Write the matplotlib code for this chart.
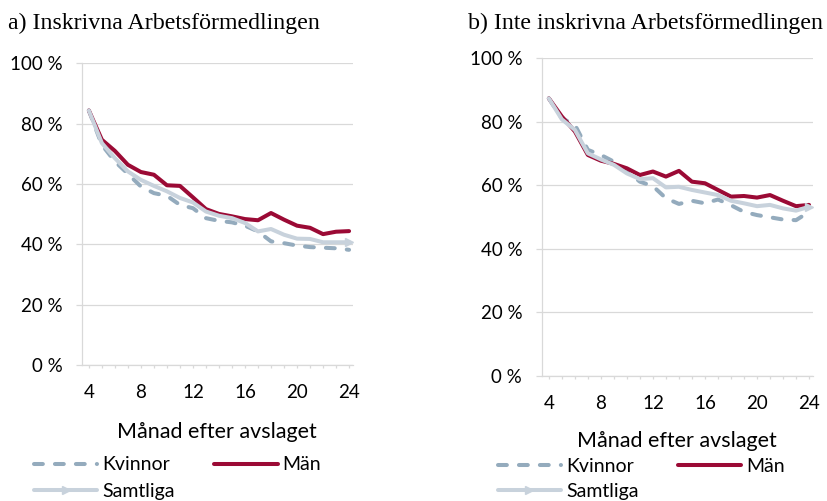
import numpy as np
import matplotlib
matplotlib.use("Agg")
import matplotlib.pyplot as plt
from matplotlib.ticker import FixedLocator, MultipleLocator, FuncFormatter

# --------------------------------------------------------------------------- #
# Data (share still out of work, %), months 4..24 after the rejection
# --------------------------------------------------------------------------- #
months = list(range(4, 25))

# a) Inskrivna Arbetsförmedlingen
a_kvinnor = [84.4, 73.0, 67.5, 63.4, 59.2, 57.0, 56.1, 53.1, 52.0, 48.7, 47.8,
             47.3, 46.2, 44.3, 41.0, 40.4, 39.6, 39.1, 38.9, 38.7, 38.2]
a_man = [84.4, 74.7, 71.0, 66.4, 64.0, 63.1, 59.6, 59.4, 55.6, 51.7, 50.1,
         49.3, 48.4, 48.0, 50.4, 48.2, 46.2, 45.5, 43.4, 44.2, 44.4]
a_samtliga = [84.4, 73.6, 68.6, 64.2, 61.4, 59.4, 57.6, 55.4, 53.9, 50.9, 49.5,
              48.7, 47.1, 44.3, 45.1, 43.2, 41.9, 41.8, 40.7, 40.7, 40.7]

# b) Inte inskrivna Arbetsförmedlingen
b_kvinnor = [87.3, 81.0, 79.0, 71.1, 69.5, 67.4, 64.3, 61.1, 59.7, 55.9, 54.1,
             55.1, 54.3, 55.5, 53.7, 51.6, 50.6, 49.9, 49.2, 49.0, 51.6]
b_man = [87.3, 81.6, 76.9, 69.5, 67.7, 66.7, 65.3, 63.2, 64.3, 62.7, 64.5,
         61.1, 60.6, 58.5, 56.4, 56.6, 56.1, 56.9, 55.1, 53.4, 53.8]
b_samtliga = [87.3, 80.7, 77.4, 70.0, 68.1, 66.4, 63.7, 61.9, 62.2, 59.3, 59.5,
              58.5, 57.7, 56.9, 55.1, 54.3, 53.4, 53.8, 52.7, 52.0, 53.2]

titles = ["a) Inskrivna Arbetsförmedlingen", "b) Inte inskrivna Arbetsförmedlingen"]
xlabel = "Månad efter avslaget"
labels = ["Kvinnor", "Män", "Samtliga"]

# colours
C_KV = "#94abbd"
C_MAN = "#9b0a35"
C_ALL = "#c8d2dc"
C_GRID = "#d9d9d9"

SANS = ["Lato", "DejaVu Sans"]
SERIF = ["Liberation Serif", "DejaVu Serif"]

fig = plt.figure(figsize=(8.27, 5.01), dpi=100)

rects = [
    [0.0988, 0.2715, 0.3280, 0.6018],
    [0.6550, 0.2495, 0.3280, 0.6348],
]
series = [(a_kvinnor, a_man, a_samtliga), (b_kvinnor, b_man, b_samtliga)]
title_x = [0.010, 0.566]
label_pads = [14.8, 14.0]
legend_anchor = [(0.041, 0.089), (0.602, 0.086)]
legend_spacing = [0.5, 0.42]

for i, (rect, (kv, man, alla)) in enumerate(zip(rects, series)):
    ax = fig.add_axes(rect)
    lw = 2.9
    l_kv, = ax.plot(months, kv, color=C_KV, lw=lw, dashes=(2.2, 3.0),
                    dash_capstyle="round", solid_capstyle="round")
    l_man, = ax.plot(months, man, color=C_MAN, lw=lw, solid_capstyle="round")
    l_all, = ax.plot(months, alla, color=C_ALL, lw=lw, marker=">",
                     markersize=6, markevery=[-1], solid_capstyle="round")

    ax.set_xlim(3.45, 24.3)
    ax.set_ylim(0, 100)

    ax.yaxis.set_major_locator(MultipleLocator(20))
    ax.yaxis.set_major_formatter(FuncFormatter(lambda v, p: f"{v:.0f} %"))
    ax.xaxis.set_major_locator(FixedLocator([4, 8, 12, 16, 20, 24]))
    ax.xaxis.set_minor_locator(MultipleLocator(1))

    ax.grid(axis="y", color=C_GRID, lw=0.9)
    ax.set_axisbelow(True)
    for s in ["top", "right"]:
        ax.spines[s].set_visible(False)
    for s in ["left", "bottom"]:
        ax.spines[s].set_color(C_GRID)
        ax.spines[s].set_linewidth(0.9)

    ax.tick_params(axis="y", length=4, width=0.9, color=C_GRID, pad=10,
                   labelsize=13.5, labelfontfamily=SANS)
    ax.tick_params(axis="x", which="both", length=2.5, width=0.9, color=C_GRID,
                   pad=11.2, labelsize=13.5, labelfontfamily=SANS)

    ax.set_xlabel(xlabel, fontsize=15.5, family=SANS, labelpad=label_pads[i])
    fig.text(title_x[i], 0.954, titles[i], fontsize=17.2, family=SERIF,
             ha="left", va="center")

    # legend: row-major order Kvinnor, Män / Samtliga
    handles = [l_kv, l_all, l_man]
    hlabels = [labels[0], labels[2], labels[1]]
    fig.legend(handles, hlabels, loc="upper left",
               bbox_to_anchor=legend_anchor[i],
               ncol=2, frameon=False, borderpad=0, borderaxespad=0,
               handlelength=3.25, handletextpad=0.25, columnspacing=2.05,
               labelspacing=legend_spacing[i], numpoints=1,
               prop={"family": SANS, "size": 14})

fig.savefig("out.png", dpi=100)
